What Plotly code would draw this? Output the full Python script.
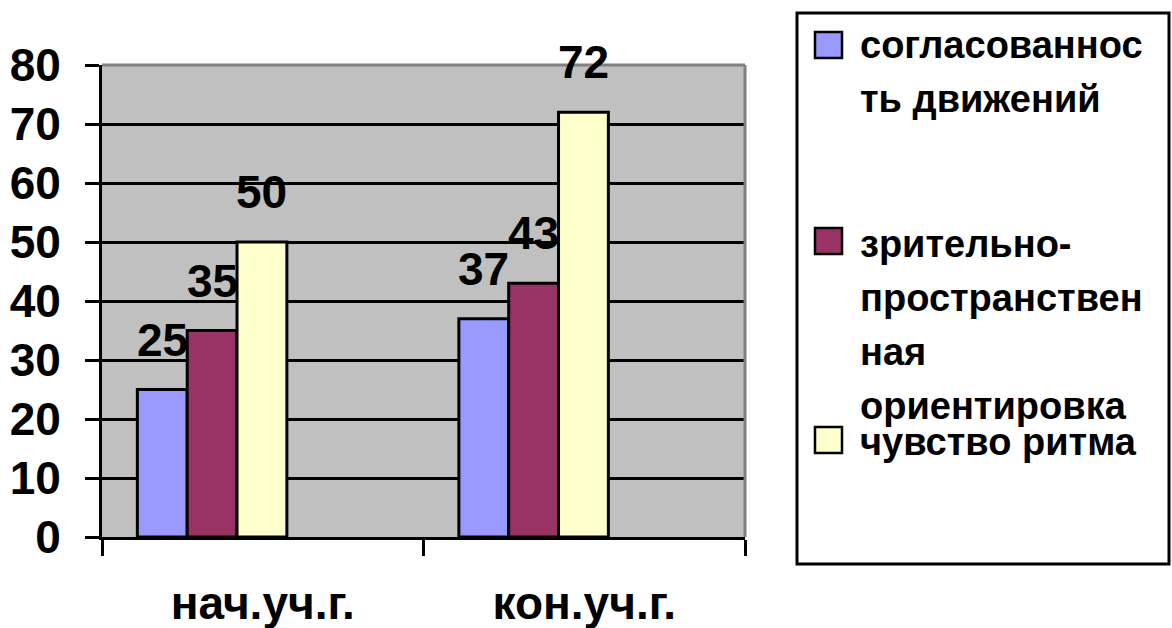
import plotly.graph_objects as go

# ---- data ----
categories = ["нач.уч.г.", "кон.уч.г."]
series_names = ["согласованность движений",
                "зрительно-пространственная ориентировка",
                "чувство ритма"]
legend_labels = ["согласованнос<br>ть движений",
                 "зрительно-<br>пространствен<br>ная<br>ориентировка",
                 "чувство ритма"]
coordination = [25, 37]
orientation = [35, 43]
rhythm = [50, 72]
y_ticks = [0, 10, 20, 30, 40, 50, 60, 70, 80]

series_values = [coordination, orientation, rhythm]
colors = ["#9999FF", "#993366", "#FFFFCC"]

# ---- layout constants ----
W, H = 1172, 628
PL, PR, PT, PB = 102, 745, 65, 537  # plot area in px
FONT = "Liberation Sans, Arial, sans-serif"
bar_w = 0.155
bar_offsets = [-0.39, -0.235, -0.08]


def px_x(p):
    return (p - PL) / (PR - PL)


def px_y(p):
    return (PB - p) / (PB - PT)


fig = go.Figure()
annotations = []
for i, (name, vals, col) in enumerate(zip(series_names, series_values, colors)):
    fig.add_trace(go.Bar(
        name=name, x=categories, y=vals,
        width=bar_w, offset=bar_offsets[i],
        marker=dict(color=col, line=dict(color="black", width=3)),
        showlegend=False,
    ))
    for j, v in enumerate(vals):
        annotations.append(dict(
            x=j + bar_offsets[i] + bar_w / 2, y=v, xref="x", yref="y",
            text=str(v), showarrow=False, yanchor="middle", yshift=50,
            font=dict(family=FONT, size=46, color="black", weight="bold"),
        ))

# legend (manual, to match the large keys and spacing of the original)
legend_box = (797, 13, 1169, 564)
key_tops = [32, 228, 427]
first_line = [45, 244, 442]
line_step = 54
shapes = [dict(type="rect", xref="paper", yref="paper",
               x0=px_x(legend_box[0]), x1=px_x(legend_box[2]),
               y0=px_y(legend_box[3]), y1=px_y(legend_box[1]),
               line=dict(color="black", width=3), fillcolor="white", layer="below")]
for k, (lab, col) in enumerate(zip(legend_labels, colors)):
    shapes.append(dict(type="rect", xref="paper", yref="paper",
                       x0=px_x(815), x1=px_x(842),
                       y0=px_y(key_tops[k] + 26), y1=px_y(key_tops[k]),
                       line=dict(color="black", width=2.5), fillcolor=col))
    for n, line in enumerate(lab.split("<br>")):
        annotations.append(dict(
            x=px_x(858), y=px_y(first_line[k] + n * line_step),
            xref="paper", yref="paper",
            text=line, showarrow=False, xanchor="left", yanchor="middle",
            font=dict(family=FONT, size=38, color="black", weight="bold"),
        ))

# gray top/right plot border
shapes.append(dict(type="line", xref="paper", yref="paper", x0=0, x1=1, y0=1, y1=1,
                   line=dict(color="#808080", width=3)))
shapes.append(dict(type="line", xref="paper", yref="paper", x0=1, x1=1, y0=0, y1=1,
                   line=dict(color="#808080", width=3)))

fig.update_layout(
    width=W, height=H,
    margin=dict(l=PL, r=W - PR, t=PT, b=H - PB, autoexpand=False),
    paper_bgcolor="white", plot_bgcolor="#C0C0C0",
    barmode="group",
    shapes=shapes, annotations=annotations,
    font=dict(family=FONT, color="black"),
)
fig.update_xaxes(
    type="category", categoryorder="array", categoryarray=categories,
    range=[-0.5, 1.5], tickson="boundaries",
    ticks="outside", ticklen=16, tickwidth=3, tickcolor="black",
    showline=True, linecolor="black", linewidth=3,
    showgrid=False, ticklabelstandoff=24,
    tickfont=dict(family=FONT, size=46, color="black", weight="bold"),
)
fig.update_yaxes(
    range=[0, 80], tickvals=y_ticks,
    ticks="outside", ticklen=14, tickwidth=3, tickcolor="black",
    showline=True, linecolor="black", linewidth=3,
    showgrid=True, gridcolor="black", gridwidth=3, zeroline=False,
    ticklabelstandoff=15,
    tickfont=dict(family=FONT, size=46, color="black", weight="bold"),
)

fig.write_html("out.html",
               config={"displayModeBar": False},
               post_script="document.body.style.margin='0px';"
                           "document.body.style.overflow='hidden';")
